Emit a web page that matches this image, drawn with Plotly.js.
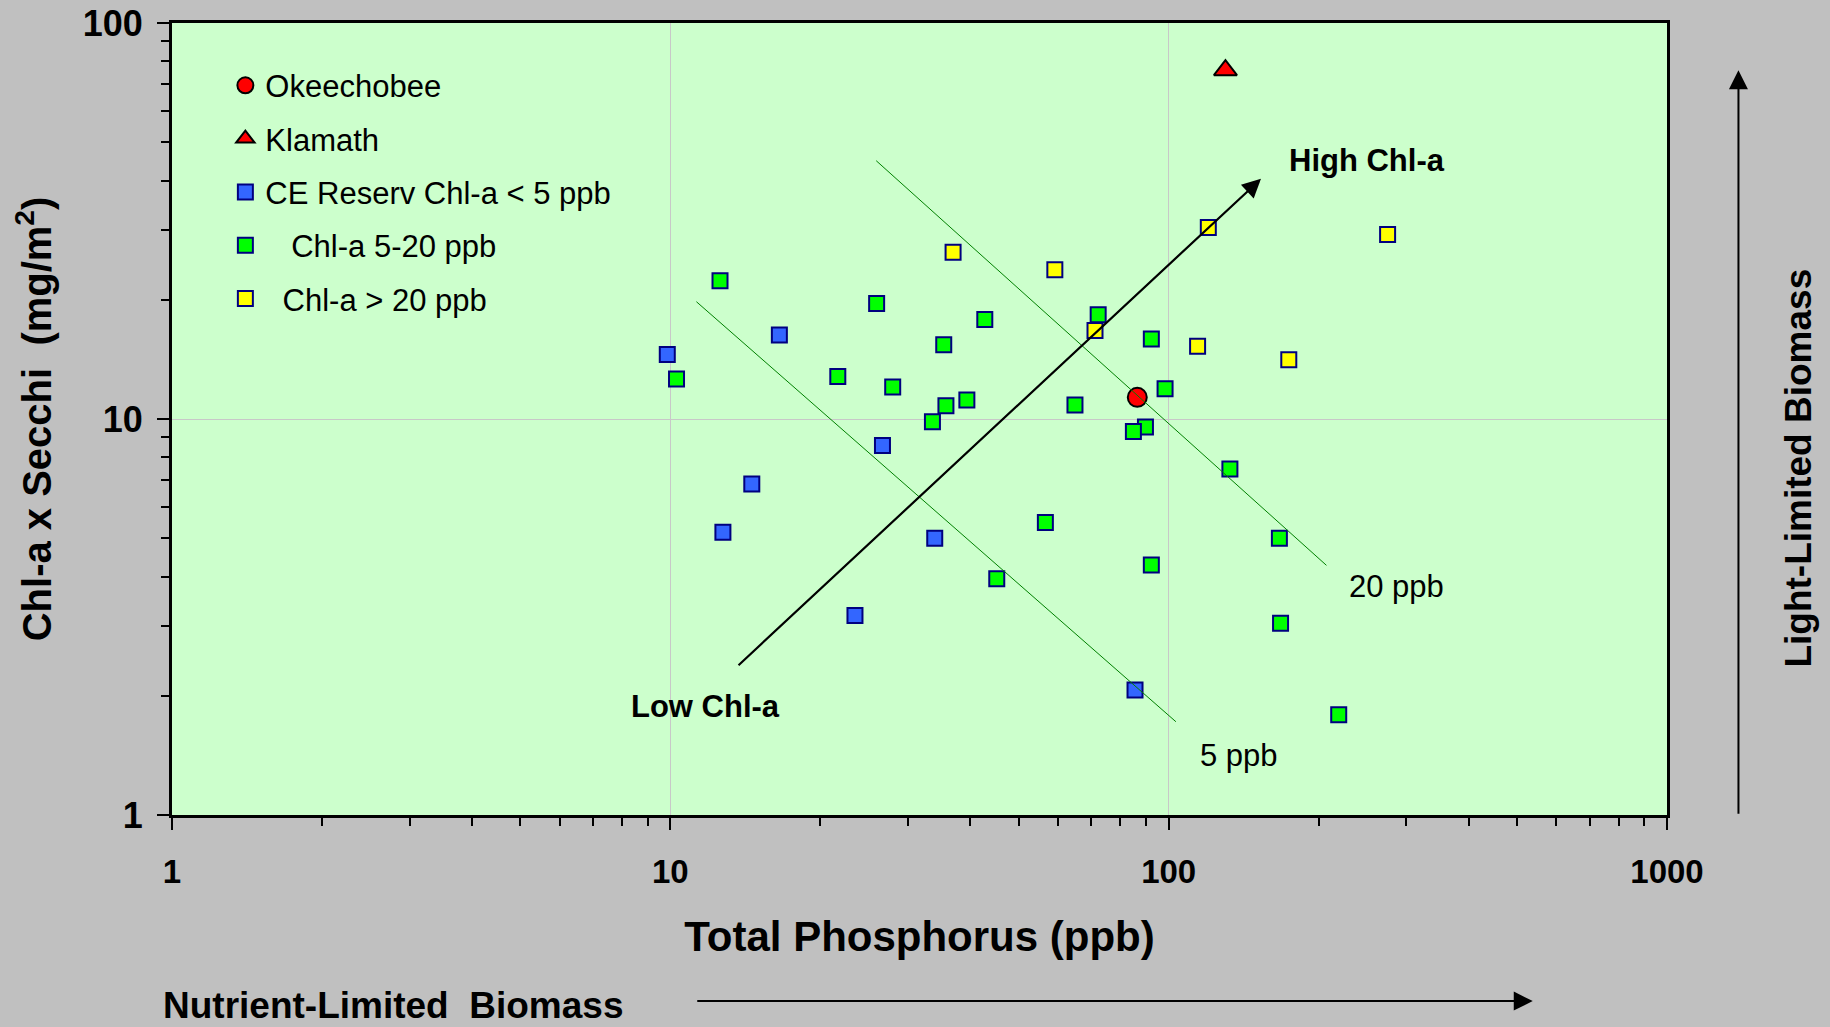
<!DOCTYPE html>
<html>
<head>
<meta charset="utf-8">
<script src="https://cdn.plot.ly/plotly-3.0.1.min.js"></script>
<style>
  html, body { margin: 0; padding: 0; background: #C0C0C0; }
  #chart { width: 1830px; height: 1027px; }
</style>
</head>
<body>
<div id="chart"></div>
<script>
// Total phosphorus (ppb) vs. Chl-a x Secchi (mg/m2)
const okeechobeeTP = [86.5];
const okeechobeeCS = [11.34];

const klamathTP = [130];
const klamathCS = [76];

// CE reservoirs, Chl-a < 5 ppb
const lowTP = [9.86, 16.55, 26.65, 14.57, 12.75, 33.93, 23.47, 85.6];
const lowCS = [14.54, 16.30, 8.57, 6.85, 5.18, 5.0, 3.19, 2.07];

// CE reservoirs, Chl-a 5-20 ppb
const midTP = [12.58, 25.94, 42.76, 35.37, 72.2, 92.3, 10.29, 21.68, 27.94, 39.36, 35.73, 33.57,
               64.86, 98.35, 89.83, 84.96, 132.7, 56.57, 166.8, 45.19, 92.3, 167.7, 219.4];
const midCS = [22.35, 19.58, 17.84, 15.40, 18.34, 15.92, 12.62, 12.81, 12.04, 11.17, 10.80, 9.84,
               10.85, 11.93, 9.54, 9.30, 7.48, 5.48, 5.0, 3.95, 4.28, 3.05, 1.79];

// CE reservoirs, Chl-a > 20 ppb
const highTP = [36.93, 59.1, 120.1, 71.15, 114.3, 174.2, 275];
const highCS = [26.35, 23.83, 30.46, 16.74, 15.26, 14.12, 29.25];

// Constant Chl-a guide lines (end points)
const chl5TP = [11.28, 103.4];
const chl5CS = [19.78, 1.72];
const chl20TP = [25.89, 207.3];
const chl20CS = [44.9, 4.27];

// Low -> High Chl-a trend arrow (tail, head)
const trendTP = [13.61, 153.2];
const trendCS = [2.37, 40.4];

const tickVals = [1, 10, 100, 1000];
const tickText = ['1', '10', '100', '1000'];

const legendNames = ['Okeechobee', 'Klamath', 'CE Reserv Chl-a < 5 ppb',
                     '\u00a0\u00a0\u00a0Chl-a 5-20 ppb', '\u00a0\u00a0Chl-a > 20 ppb'];

const FONT = 'Liberation Sans, Arial, sans-serif';
const NAVY = '#000080';

function minorVals(maxDecade) {
  const v = [];
  for (let d = 0; d < maxDecade; d++) {
    for (let k = 2; k <= 9; k++) v.push(k * Math.pow(10, d));
  }
  return v;
}

function squares(x, y, name, fill, group) {
  return {
    x: x, y: y, name: name, type: 'scatter', mode: 'markers', legendgroup: group,
    marker: { symbol: 'square', size: 15, color: fill, line: { color: NAVY, width: 2 } },
    hoverinfo: 'x+y+name'
  };
}

const traces = [
  {
    x: okeechobeeTP, y: okeechobeeCS, name: legendNames[0], type: 'scatter', mode: 'markers',
    legendgroup: 'g1',
    marker: { symbol: 'circle', size: 19, color: '#FF0000', line: { color: '#000000', width: 2 } }
  },
  {
    x: klamathTP, y: klamathCS, name: legendNames[1], type: 'scatter', mode: 'markers',
    legendgroup: 'g2',
    marker: { symbol: 'triangle-up', size: 20, color: '#FF0000', line: { color: '#000000', width: 2 } }
  },
  squares(lowTP, lowCS, legendNames[2], '#3366FF', 'g3'),
  squares(midTP, midCS, legendNames[3], '#00FF00', 'g4'),
  squares(highTP, highCS, legendNames[4], '#FFFF00', 'g5'),
  {
    x: chl5TP, y: chl5CS, type: 'scatter', mode: 'lines', showlegend: false, hoverinfo: 'skip',
    line: { color: '#008000', width: 1 }
  },
  {
    x: chl20TP, y: chl20CS, type: 'scatter', mode: 'lines', showlegend: false, hoverinfo: 'skip',
    line: { color: '#008000', width: 1 }
  }
];

const annotations = [
  // trend arrow across the data
  {
    xref: 'x', yref: 'y', axref: 'x', ayref: 'y',
    x: Math.log10(trendTP[1]), y: Math.log10(trendCS[1]),
    ax: Math.log10(trendTP[0]), ay: Math.log10(trendCS[0]),
    text: '', showarrow: true, arrowhead: 2, arrowsize: 1.7, arrowwidth: 2.2, arrowcolor: '#000000'
  },
  { xref: 'paper', yref: 'paper', x: 0.7455, y: 0.8261, xanchor: 'left', yanchor: 'middle',
    text: '<b>High Chl-a</b>', showarrow: false, font: { family: FONT, size: 31, color: '#000' } },
  { xref: 'paper', yref: 'paper', x: 0.3059, y: 0.1364, xanchor: 'left', yanchor: 'middle',
    text: '<b>Low Chl-a</b>', showarrow: false, font: { family: FONT, size: 31, color: '#000' } },
  { xref: 'paper', yref: 'paper', x: 0.7860, y: 0.2883, xanchor: 'left', yanchor: 'middle',
    text: '20 ppb', showarrow: false, font: { family: FONT, size: 31, color: '#000' } },
  { xref: 'paper', yref: 'paper', x: 0.6861, y: 0.0745, xanchor: 'left', yanchor: 'middle',
    text: '5 ppb', showarrow: false, font: { family: FONT, size: 31, color: '#000' } },
  // nutrient-limited arrow below the plot
  { xref: 'paper', yref: 'paper', x: -0.0072, y: -0.2410, xanchor: 'left', yanchor: 'middle',
    text: '<b>Nutrient-Limited \u00a0Biomass</b>', showarrow: false,
    font: { family: FONT, size: 37, color: '#000' } },
  { xref: 'paper', yref: 'paper', x: 0.9102, y: -0.235, ax: -837, ay: 0,
    text: '', showarrow: true, arrowhead: 2, arrowsize: 1.9, arrowwidth: 2, arrowcolor: '#000000' },
  // light-limited arrow right of the plot
  { xref: 'paper', yref: 'paper', x: 1.0478, y: 0.9402, ax: 0, ay: 745,
    text: '', showarrow: true, arrowhead: 2, arrowsize: 1.9, arrowwidth: 2, arrowcolor: '#000000' },
  { xref: 'paper', yref: 'paper', x: 1.0882, y: 0.4385, xanchor: 'center', yanchor: 'middle',
    text: '<b>Light-Limited Biomass</b>', textangle: -90, showarrow: false,
    font: { family: FONT, size: 37, color: '#000' } }
];

const axisCommon = {
  type: 'log',
  tickmode: 'array',
  tickvals: tickVals,
  ticktext: tickText,
  ticks: 'outside',
  ticklen: 12,
  tickwidth: 2,
  tickcolor: '#000000',
  showline: true,
  linecolor: '#000000',
  linewidth: 3,
  mirror: true,
  showgrid: true,
  gridcolor: '#C8C8C8',
  gridwidth: 1,
  zeroline: false,
  tickfont: { family: FONT, size: 33, color: '#000000', weight: 'bold' },
  minor: {
    tickmode: 'array',
    tickvals: minorVals(3),
    ticks: 'outside',
    ticklen: 8,
    tickwidth: 2,
    tickcolor: '#000000',
    showgrid: false
  }
};

const layout = {
  width: 1830,
  height: 1027,
  margin: { l: 171.7, r: 163.4, t: 23.3, b: 211.7, pad: 0 },
  paper_bgcolor: '#C0C0C0',
  plot_bgcolor: '#CCFFCC',
  font: { family: FONT, color: '#000000' },
  showlegend: true,
  legend: {
    x: 0.0357, y: 0.955, xanchor: 'left', yanchor: 'top',
    bgcolor: 'rgba(0,0,0,0)', borderwidth: 0,
    traceorder: 'grouped', tracegroupgap: 10,
    font: { family: FONT, size: 31, color: '#000000' }
  },
  xaxis: Object.assign({}, axisCommon, {
    range: [0, 3],
    ticklabelstandoff: 13,
    title: { text: '<b>Total Phosphorus (ppb)</b>', standoff: 34,
             font: { family: FONT, size: 42, color: '#000000' } }
  }),
  yaxis: Object.assign({}, axisCommon, {
    range: [0, 2],
    ticklabelstandoff: 7,
    tickfont: { family: FONT, size: 36, color: '#000000', weight: 'bold' },
    title: { text: '<b>Chl-a x Secchi \u00a0(mg/m<sup>2</sup>)</b>', standoff: 19,
             font: { family: FONT, size: 40, color: '#000000' } }
  }),
  annotations: annotations
};

Plotly.newPlot('chart', traces, layout, { displayModeBar: false, staticPlot: true });
</script>
</body>
</html>
